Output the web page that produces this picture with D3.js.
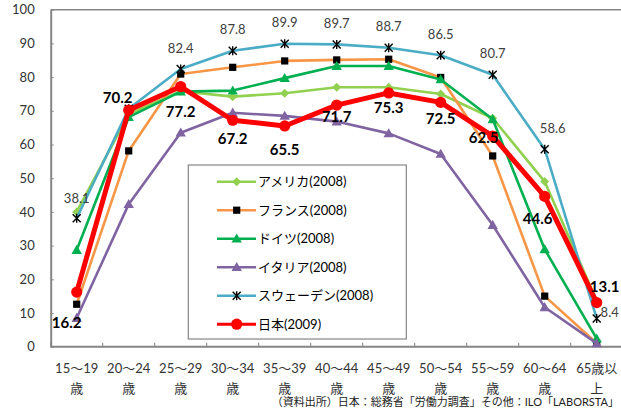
<!DOCTYPE html>
<html>
<head>
<meta charset="utf-8">
<script src="https://cdn.jsdelivr.net/npm/d3@7"></script>
<style>
  html, body { margin: 0; padding: 0; background: #fff; }
  svg { display: block; }
  text { font-family: Lato, "Noto Sans CJK JP", sans-serif; }
</style>
</head>
<body>
<svg id="chart" width="621" height="410"></svg>
<script>
// Age groups (two-line tick labels)
const ageTop = ["15～19", "20～24", "25～29", "30～34", "35～39", "40～44", "45～49", "50～54", "55～59", "60～64", "65歳以"];
const ageBottom = ["歳", "歳", "歳", "歳", "歳", "歳", "歳", "歳", "歳", "歳", "上"];

// Labour force participation rate of women by age (%)
const usa     = [40.0, 69.0, 75.8, 74.2, 75.2, 77.0, 77.0, 75.0, 67.8, 49.0, 13.6];
const france  = [12.6, 58.1, 80.9, 82.9, 84.8, 85.1, 85.3, 79.9, 56.6, 15.0, 1.0];
const germany = [28.7, 68.1, 75.7, 76.0, 79.7, 83.3, 83.3, 79.3, 67.5, 28.9, 2.4];
const italy   = [8.5, 42.3, 63.5, 69.4, 68.5, 66.8, 63.3, 57.2, 36.1, 11.7, 1.0];
const sweden  = [38.1, 70.6, 82.4, 87.8, 89.9, 89.7, 88.7, 86.5, 80.7, 58.6, 8.4];
const japan   = [16.2, 70.2, 77.2, 67.2, 65.5, 71.7, 75.3, 72.5, 62.5, 44.6, 13.1];

const seriesNames = ["アメリカ(2008)", "フランス(2008)", "ドイツ(2008)", "イタリア(2008)", "スウェーデン(2008)", "日本(2009)"];
const yTicks = [0, 10, 20, 30, 40, 50, 60, 70, 80, 90, 100];
const sourceNote = "（資料出所）日本：総務省「労働力調査」その他：ILO「LABORSTA」";

// Label placement (offset of label centre from its point)
const swedenLabelOffset = [[0, -20], null, [0, -21], [0, -21], [0, -21], [0, -21], [0, -21], [0, -21], [0, -21], [8, -21], [13, -6]];
const japanLabelOffset = [[-10, 31], [-11, -12], [0, 25], [0, 19], [0, 24], [0, 12], [0, 15], [0, 16], [-9, 2], [-7, 22], [8, -16]];

const svg = d3.select("#chart");
svg.append("rect").attr("width", 621).attr("height", 410).attr("fill", "#fff");

const plot = { left: 50.7, right: 622.7, top: 9.7, bottom: 346.7 };

const x = d3.scaleBand().domain(d3.range(ageTop.length)).range([plot.left, plot.right]).padding(0);
const cx = i => x(i) + x.bandwidth() / 2;
const y = d3.scaleLinear().domain([0, 100]).range([plot.bottom, plot.top]);

const axisColor = "#868686";

// Plot area top border
svg.append("line")
  .attr("x1", plot.left).attr("x2", plot.right)
  .attr("y1", y(100)).attr("y2", y(100))
  .attr("stroke", axisColor).attr("stroke-width", 1.5);

// Y axis
const yAxis = svg.append("g")
  .attr("transform", `translate(${plot.left},0)`)
  .call(d3.axisLeft(y).tickValues(yTicks).tickSizeInner(-3).tickSizeOuter(0).tickPadding(16));
yAxis.select(".domain").attr("stroke", axisColor).attr("stroke-width", 2);
yAxis.selectAll(".tick line").attr("stroke", axisColor).attr("stroke-width", 1);
yAxis.selectAll(".tick text")
  .attr("font-size", 13).attr("fill", "#333")
  .style("font-family", "Lato, 'Noto Sans CJK JP', sans-serif");

// X axis line and boundary ticks
svg.append("line")
  .attr("x1", plot.left).attr("x2", plot.right)
  .attr("y1", y(0)).attr("y2", y(0))
  .attr("stroke", axisColor).attr("stroke-width", 2);
const boundaries = d3.range(ageTop.length + 1).map(i => i < ageTop.length ? x(i) : x(i - 1) + x.bandwidth());
svg.selectAll(".xtick").data(boundaries).join("line")
  .attr("class", "xtick")
  .attr("x1", d => d).attr("x2", d => d)
  .attr("y1", y(0)).attr("y2", y(0) - 4)
  .attr("stroke", axisColor).attr("stroke-width", 1);

// X tick labels
const xl = svg.append("g");
xl.selectAll(".xt1").data(ageTop).join("text")
  .attr("class", "xt1")
  .attr("x", (d, i) => cx(i)).attr("y", 373)
  .attr("text-anchor", "middle").attr("font-size", 13).attr("fill", "#333")
  .text(d => d);
xl.selectAll(".xt2").data(ageBottom).join("text")
  .attr("class", "xt2")
  .attr("x", (d, i) => cx(i)).attr("y", 393)
  .attr("text-anchor", "middle").attr("font-size", 13).attr("fill", "#333")
  .text(d => d);

// Marker drawers
const markers = {
  diamond: (g, col) => g.append("path").attr("d", "M0,-4.5L4.5,0L0,4.5L-4.5,0Z").attr("fill", col),
  square: (g) => g.append("rect").attr("x", -3.6).attr("y", -3.6).attr("width", 7.2).attr("height", 7.2).attr("fill", "#000"),
  triangle: (g, col) => g.append("path").attr("d", "M0,-5.2L5.2,3.9L-5.2,3.9Z").attr("fill", col),
  star: (g) => g.append("path").attr("d", "M-4,-4L4,4M-4,4L4,-4M0,-4.5L0,4.5").attr("stroke", "#000").attr("stroke-width", 1.4).attr("fill", "none"),
  circle: (g, col) => g.append("circle").attr("r", 5.6).attr("fill", col)
};

const series = [
  { name: seriesNames[0], values: usa, color: "#92D050", width: 2.6, marker: "diamond" },
  { name: seriesNames[1], values: france, color: "#F79646", width: 2.6, marker: "square" },
  { name: seriesNames[2], values: germany, color: "#00B050", width: 2.6, marker: "triangle" },
  { name: seriesNames[3], values: italy, color: "#8064A2", width: 2.6, marker: "triangle" },
  { name: seriesNames[4], values: sweden, color: "#4BACC6", width: 2.6, marker: "star" },
  { name: seriesNames[5], values: japan, color: "#FF0000", width: 5, marker: "circle" }
];

const line = d3.line().x((d, i) => cx(i)).y(d => y(d));

series.forEach(s => {
  const g = svg.append("g");
  g.append("path")
    .attr("d", line(s.values))
    .attr("fill", "none")
    .attr("stroke", s.color)
    .attr("stroke-width", s.width)
    .attr("stroke-linejoin", "round");
  s.values.forEach((v, i) => {
    const m = g.append("g").attr("transform", `translate(${cx(i)},${y(v)})`);
    markers[s.marker](m, s.color);
  });
});

// Sweden value labels
svg.append("g").selectAll("text")
  .data(sweden.map((v, i) => ({ v, i, o: swedenLabelOffset[i] })).filter(d => d.o))
  .join("text")
  .attr("x", d => cx(d.i) + d.o[0])
  .attr("y", d => y(d.v) + d.o[1])
  .attr("dy", "0.35em")
  .attr("text-anchor", "middle")
  .attr("font-size", 13).attr("fill", "#404040")
  .text(d => d.v.toFixed(1));

// Japan value labels
svg.append("g").selectAll("text")
  .data(japan.map((v, i) => ({ v, i, o: japanLabelOffset[i] })))
  .join("text")
  .attr("x", d => cx(d.i) + d.o[0])
  .attr("y", d => y(d.v) + d.o[1])
  .attr("dy", "0.35em")
  .attr("text-anchor", "middle")
  .attr("font-size", 15).attr("font-weight", "bold").attr("fill", "#000")
  .text(d => d.v.toFixed(1));

// Legend
const legend = svg.append("g");
legend.append("rect")
  .attr("x", 188.3).attr("y", 165).attr("width", 218).attr("height", 174)
  .attr("fill", "#fff").attr("stroke", axisColor).attr("stroke-width", 1.2);
series.forEach((s, k) => {
  const ly = 181.7 + k * 28.5;
  const g = legend.append("g");
  g.append("line").attr("x1", 217).attr("x2", 256).attr("y1", ly).attr("y2", ly)
    .attr("stroke", s.color).attr("stroke-width", s.width === 5 ? 3 : 2.6);
  const m = g.append("g").attr("transform", `translate(236.7,${ly})`);
  markers[s.marker](m, s.color);
  g.append("text").attr("x", 258).attr("y", ly).attr("dy", "0.35em")
    .attr("font-size", 13).attr("fill", "#000").text(s.name);
});

// Source note
svg.append("text")
  .attr("x", 619).attr("y", 406)
  .attr("text-anchor", "end")
  .attr("font-size", 11).attr("fill", "#222")
  .text(sourceNote);
</script>
</body>
</html>
